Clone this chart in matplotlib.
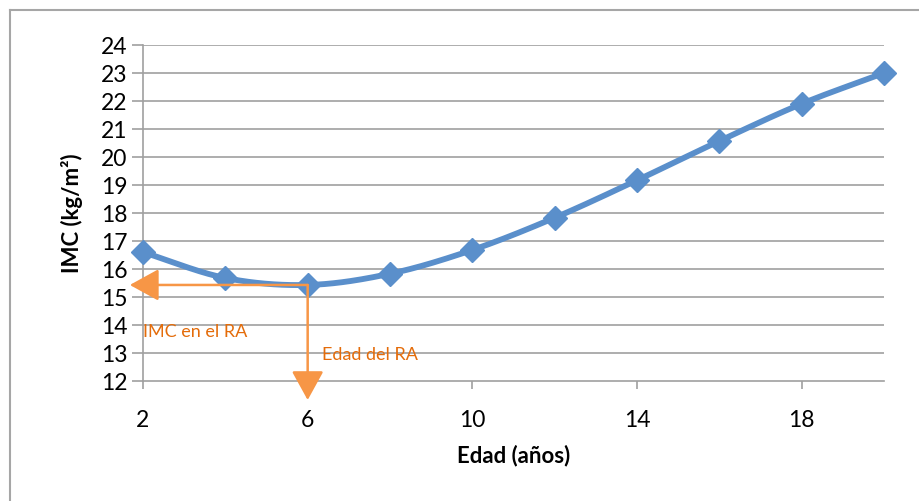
import numpy as np
from matplotlib import pyplot as plt
from matplotlib.patches import FancyArrowPatch
from matplotlib.lines import Line2D

plt.rcParams['font.family'] = ['Lato', 'DejaVu Sans']

edad = [2, 4, 6, 8, 10, 12, 14, 16, 18, 20]
imc = [16.6, 15.68, 15.43, 15.83, 16.68, 17.83, 19.17, 20.57, 21.9, 23.0]
x_ticks = [2, 6, 10, 14, 18]
y_ticks = list(range(12, 25))
ra_edad = 6
ra_imc = 15.43

blue = '#5A8FCB'
orange = '#F79646'
text_orange = '#E46C0A'
grey = '#A0A0A0'


def catmull_rom(xs, ys, n=30):
  # smooth curve through the points, like excel's smoothed line
  xs = np.asarray(xs, float)
  ys = np.asarray(ys, float)
  px = np.concatenate([[2 * xs[0] - xs[1]], xs, [2 * xs[-1] - xs[-2]]])
  py = np.concatenate([[2 * ys[0] - ys[1]], ys, [2 * ys[-1] - ys[-2]]])
  ox, oy = [], []
  t = np.linspace(0, 1, n)
  for i in range(1, len(px) - 2):
    for p, o in ((px, ox), (py, oy)):
      p0, p1, p2, p3 = p[i - 1], p[i], p[i + 1], p[i + 2]
      o.extend(0.5 * ((2 * p1) + (-p0 + p2) * t +
                      (2 * p0 - 5 * p1 + 4 * p2 - p3) * t ** 2 +
                      (-p0 + 3 * p1 - 3 * p2 + p3) * t ** 3))
  return np.array(ox), np.array(oy)


fig = plt.figure(figsize=(9.2, 5.01), dpi=100)
ax = fig.add_axes([143 / 920, 1 - 381 / 501, (884 - 143) / 920, (381 - 45) / 501])

# frame round the chart (only left and top are visible)
fig.add_artist(Line2D([10 / 920, 10 / 920], [0, 1 - 10 / 501], color='#A6A6A6', lw=1.5))
fig.add_artist(Line2D([10 / 920, 1], [1 - 10 / 501, 1 - 10 / 501], color='#A6A6A6', lw=1.5))

for yv in y_ticks[1:]:
  ax.axhline(yv, color=grey, lw=1.2, zorder=1)

sx, sy = catmull_rom(edad, imc)
ax.plot(sx, sy, color=blue, lw=4.2, zorder=3, solid_capstyle='round')
ax.plot(edad, imc, linestyle='none', marker='D', markersize=12, color=blue, zorder=4, clip_on=False)

ax.set_xlim(2, 20)
ax.set_ylim(12, 24)
ax.set_xticks(x_ticks)
ax.set_yticks(y_ticks)
ax.tick_params(axis='y', length=8, width=1.2, color=grey, labelsize=16.5, pad=3)
ax.tick_params(axis='x', length=6, width=1.2, color=grey, labelsize=16.5, pad=15)
for s in ['top', 'right']:
  ax.spines[s].set_visible(False)
for s in ['left', 'bottom']:
  ax.spines[s].set_color(grey)
  ax.spines[s].set_linewidth(1.2)

ax.set_xlabel('Edad (años)', fontsize=16, fontweight='bold', labelpad=10)
ax.set_ylabel('IMC (kg/m²)', fontsize=16, fontweight='bold', labelpad=13)

# arrows from the point of adiposity rebound
a1 = FancyArrowPatch((ra_edad, ra_imc), (1.68, ra_imc), arrowstyle='-|>,head_length=1.0,head_width=0.55',
                     mutation_scale=18, color=orange, lw=1.8, shrinkA=0, shrinkB=0, clip_on=False, zorder=5)
a2 = FancyArrowPatch((ra_edad, ra_imc), (ra_edad, 11.32), arrowstyle='-|>,head_length=1.0,head_width=0.55',
                     mutation_scale=18, color=orange, lw=1.8, shrinkA=0, shrinkB=0, clip_on=False, zorder=5)
ax.add_patch(a1)
ax.add_patch(a2)
ax.text(2.0, 13.75, 'IMC en el RA', color=text_orange, fontsize=13, va='center', ha='left')
ax.text(6.35, 12.93, 'Edad del RA', color=text_orange, fontsize=13, va='center', ha='left')

plt.savefig('out.png', dpi=100)
